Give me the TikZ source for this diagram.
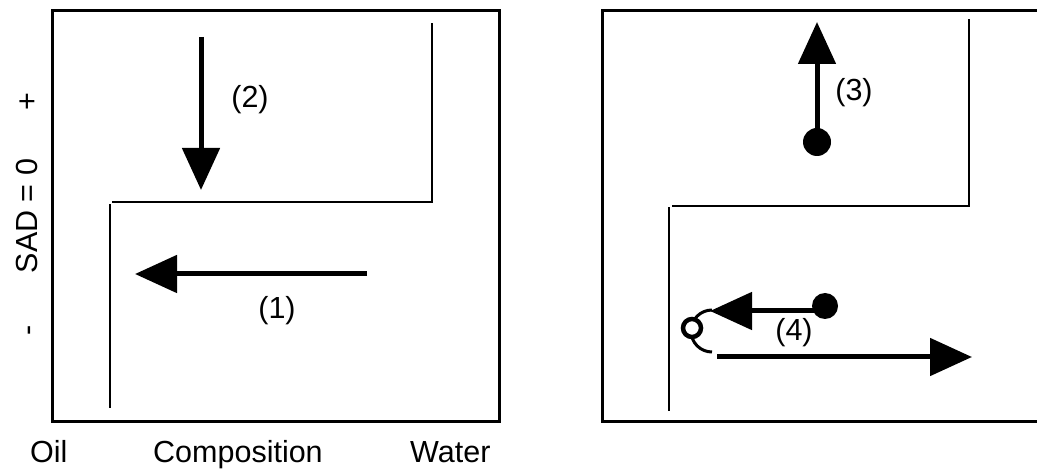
\documentclass[tikz,border=0pt]{standalone}
\usepackage{fontspec}
\setmainfont{Liberation Sans}
\usetikzlibrary{arrows.meta}
\tikzset{
  frame/.style={line width=3pt, line join=miter},
  wall/.style={line width=2.6pt},
  flow/.style={line width=5pt, -{Triangle[length=42pt,width=37pt]}},
  lbl/.style={inner sep=0pt, font=\fontsize{30.5}{36}\selectfont},
  dotnode/.style={circle, fill=black, inner sep=0pt},
}
\begin{document}
\begin{tikzpicture}[x=1pt,y=-1pt]
\useasboundingbox (0,0) rectangle (1037,470);
% ---------- left panel ----------
\draw[frame] (52,11) rectangle (499,422);
\draw[wall] (110,408) -- (110,204);
\draw[wall] (112,202) -- (432,202) -- (432,23);
\coordinate (a2s) at (201,37);
\coordinate (a2e) at (201,190);
\draw[flow] (a2s) -- (a2e);
\coordinate (a1s) at (367,274);
\coordinate (a1e) at (135,274);
\draw[flow] (a1s) -- (a1e);
\node[lbl] (l2) at (250,100) {(2)};
\node[lbl] (l1) at (277,311) {(1)};
% axis labels
\node[lbl, rotate=90, anchor=base] (sad) at (37,216) {SAD = 0};
\node[lbl, rotate=90, anchor=base] (plus) at (37,102) {+};
\node[lbl, rotate=90, anchor=base] (minus) at (37,330) {-};
\node[lbl, anchor=base west] (oil) at (30,463) {Oil};
\node[lbl, anchor=base west] (comp) at (153,463) {Composition};
\node[lbl, anchor=base west] (water) at (410,463) {Water};
% ---------- right panel ----------
\draw[frame] (1040,11) -- (602,11) -- (602,422) -- (1040,422);
\draw[wall] (669,411) -- (669,207);
\draw[wall] (672,206) -- (969,206) -- (969,19);
% (3)
\node[dotnode, minimum size=28pt] (d3) at (817,142) {};
\coordinate (a3e) at (817,22);
\draw[flow] (d3.center) -- (a3e);
\node[lbl] (l3) at (854,93) {(3)};
% (4)
\node[dotnode, minimum size=26pt] (d4) at (825,306) {};
\coordinate (a4e) at (710,311);
\draw[flow] ([yshift=-5pt]d4.center) -- (a4e);
\draw[line width=3pt] (712,310) arc[start angle=270, end angle=90, radius=21];
\node[circle, draw, line width=4.5pt, fill=white, minimum size=18pt, inner sep=0pt] (oc) at (692,328) {};
\coordinate (a5s) at (717,357);
\coordinate (a5e) at (972,357);
\draw[flow] (a5s) -- (a5e);
\node[lbl] (l4) at (794,333) {(4)};
\end{tikzpicture}
\end{document}
